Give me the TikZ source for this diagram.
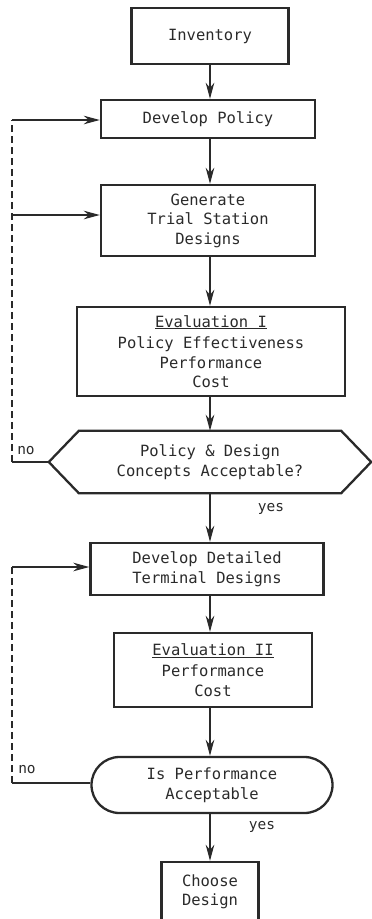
\documentclass[tikz,border=0pt]{standalone}
\usepackage{fontspec}
\newfontfamily\monof{DejaVu Sans Mono}
\usetikzlibrary{arrows.meta,shapes.misc}
\definecolor{ink}{HTML}{2A2A2A}
\begin{document}
\begin{tikzpicture}[x=1pt,y=-1pt,
  every node/.style={font=\monof\fontsize{15.5}{19.5}\selectfont, text=ink},
  box/.style={draw=ink, line width=2.3pt, align=center, inner sep=0pt},
  arr/.style={draw=ink, line width=2.1pt, -{Stealth[length=16pt,width=8.5pt,inset=5pt]}},
  fb/.style={draw=ink, line width=2.1pt},
  fbdash/.style={draw=ink, line width=2.1pt, dash pattern=on 7pt off 4pt},
  lab/.style={font=\monof\fontsize{14.5}{17}\selectfont}
]
\useasboundingbox (0,0) rectangle (372,919);

\node[box, minimum width=157pt, minimum height=56pt] (inv) at (210,36) {Inventory};
\node[box, minimum width=214pt, minimum height=38pt] (dp) at (208,119) {Develop Policy};
\node[box, minimum width=214pt, minimum height=71pt] (gen) at (208,220.5) {Generate\\Trial Station\\Designs};
\node[box, minimum width=268pt, minimum height=89pt] (ev1) at (211,351.5) {\underline{Evaluation I}\\[2pt]Policy Effectiveness\\Performance\\Cost};
\node[align=center, minimum width=322pt, minimum height=62pt, inner sep=0pt] (hex) at (210,462) {Policy \& Design\\Concepts Acceptable?};
\draw[draw=ink, line width=2.3pt] (hex.west) -- ([xshift=30pt]hex.north west) -- ([xshift=-30pt]hex.north east) -- (hex.east) -- ([xshift=-30pt]hex.south east) -- ([xshift=30pt]hex.south west) -- cycle;
\node[box, minimum width=233pt, minimum height=52pt] (ddt) at (207,569) {Develop Detailed\\Terminal Designs};
\node[box, minimum width=198pt, minimum height=74pt] (ev2) at (213,670) {\underline{Evaluation II}\\[2pt]Performance\\Cost};
\node[box, rounded rectangle, minimum width=241pt, minimum height=56pt] (perf) at (212,785) {Is Performance\\Acceptable};
\node[box, minimum width=97pt, minimum height=60pt] (cho) at (210,892) {Choose\\Design};

% main flow
\coordinate (ax) at (210,0);
\draw[arr] (inv.south -| ax) -- (dp.north -| ax);
\draw[arr] (dp.south -| ax) -- (gen.north -| ax);
\draw[arr] (gen.south -| ax) -- (ev1.north -| ax);
\draw[arr] (ev1.south -| ax) -- (hex.north -| ax);
\draw[arr] (hex.south -| ax) -- (ddt.north -| ax);
\draw[arr] (ddt.south -| ax) -- (ev2.north -| ax);
\draw[arr] (ev2.south -| ax) -- (perf.north -| ax);
\draw[arr] (perf.south -| ax) -- (cho.north -| ax);

\node[lab] (yes1) at (271,509) {yes};
\node[lab] (yes2) at (262,827) {yes};
\node[lab] (no1) at (26,451) {no};
\node[lab] (no2) at (27,770) {no};

% feedback loop 1
\coordinate (n1) at (12,462);
\coordinate (t1) at (12,120);
\coordinate (g1) at (12,215);
\draw[fb] (hex.west) -- (n1);
\draw[fbdash] (n1) -- (t1);
\draw[arr] (t1) -- (t1 -| dp.west);
\draw[arr] (g1) -- (g1 -| gen.west);

% feedback loop 2
\coordinate (n2) at (12,783);
\coordinate (t2) at (12,567);
\draw[fb] (perf.west |- n2) -- (n2);
\draw[fbdash] (n2) -- (t2);
\draw[arr] (t2) -- (t2 -| ddt.west);
\end{tikzpicture}
\end{document}
